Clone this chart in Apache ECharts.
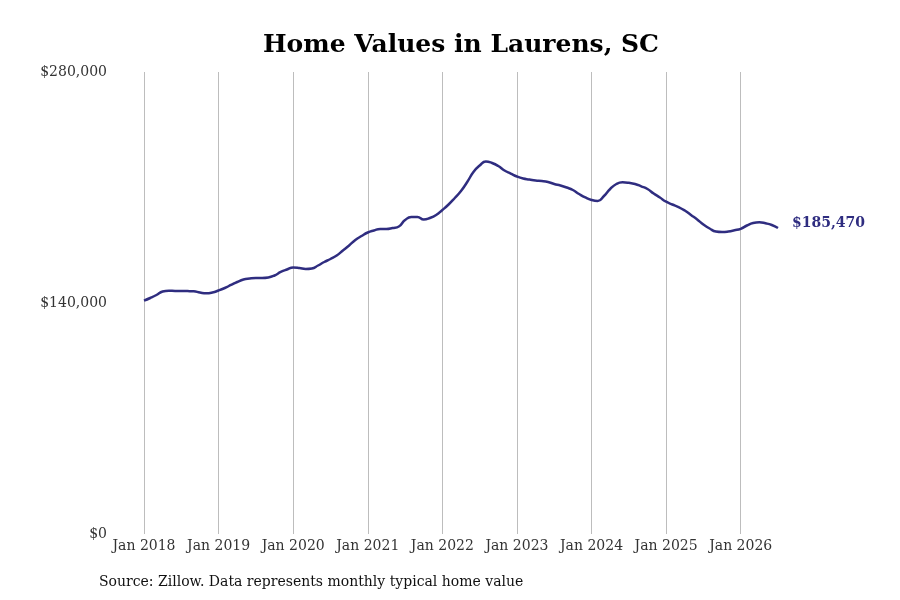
<!DOCTYPE html>
<html>
<head>
<meta charset="utf-8">
<script src="https://cdn.jsdelivr.net/npm/echarts@6/dist/echarts.min.js"></script>
<style>html,body{margin:0;padding:0;background:#fff;}#chart{width:900px;height:600px;}</style>
</head>
<body>
<div id="chart"></div>
<script>
var years = [2018, 2019, 2020, 2021, 2022, 2023, 2024, 2025, 2026];
var monthNames = ['Jan','Feb','Mar','Apr','May','Jun','Jul','Aug','Sep','Oct','Nov','Dec'];
var yTicks = [0, 140000, 280000];

var v2018 = [141400, 143030, 144850, 146970, 147450, 147270, 147250, 147200, 147090, 146360, 145880, 146360];
var v2019 = [147580, 149090, 150910, 152730, 154240, 154850, 155150, 155150, 155450, 156670, 158790, 160300];
var v2020 = [161520, 161210, 160610, 160910, 162730, 164850, 166670, 168790, 171820, 174850, 178180, 180610];
var v2021 = [182730, 183940, 184850, 184850, 185450, 186360, 190300, 192120, 192120, 190610, 191510, 193330];
var v2022 = [196360, 199700, 203640, 207880, 213330, 219390, 223330, 225760, 224850, 223030, 220300, 218480];
var v2023 = [216670, 215450, 214850, 214240, 213940, 213330, 212120, 211210, 210000, 208480, 206060, 203940];
var v2024 = [202420, 201820, 204850, 209090, 212120, 213150, 212850, 212120, 210730, 209090, 206360, 203940];
var v2025 = [201390, 199700, 198180, 196060, 193330, 190610, 187580, 185150, 183330, 183030, 183330, 184060];
var v2026 = [184970, 186970, 188480, 188910, 188300, 187270, 185470];

var values = [].concat(v2018, v2019, v2020, v2021, v2022, v2023, v2024, v2025, v2026);
var categories = [];
for (var i = 0; i < values.length; i++) {
  categories.push(monthNames[i % 12] + ' ' + years[Math.floor(i / 12)]);
}

var lineColor = '#2f2d80';
var serif = 'DejaVu Serif';
function money(v) { return '$' + Math.round(v).toLocaleString('en-US'); }

var chart = echarts.init(document.getElementById('chart'));
chart.setOption({
  animation: false,
  backgroundColor: '#ffffff',
  grid: { left: 144, right: 122, top: 72, bottom: 66 },
  xAxis: {
    type: 'category',
    data: categories,
    boundaryGap: false,
    axisLine: { show: false },
    axisTick: { show: false },
    axisLabel: {
      interval: function (idx) { return idx % 12 === 0; },
      fontFamily: serif, fontSize: 14, color: '#333', margin: 5
    },
    splitLine: {
      show: true,
      interval: function (idx) { return idx % 12 === 0; },
      lineStyle: { color: '#bdbdbd', width: 1 }
    }
  },
  yAxis: {
    type: 'value',
    min: yTicks[0], max: yTicks[2], interval: yTicks[1],
    axisLine: { show: false },
    axisTick: { show: false },
    splitLine: { show: false },
    axisLabel: {
      formatter: money,
      fontFamily: serif, fontSize: 14, color: '#333', margin: 37,
      padding: [4, 0, 0, 0]
    }
  },
  graphic: [
    { type: 'text', x: 461, y: 45, style: { text: 'Home Values in Laurens, SC', font: 'bold 25px "DejaVu Serif"', fill: '#000', textAlign: 'center', textVerticalAlign: 'middle' } },
    { type: 'text', x: 99, y: 582, style: { text: 'Source: Zillow. Data represents monthly typical home value', font: '14px "DejaVu Serif"', fill: '#111', textAlign: 'left', textVerticalAlign: 'middle' } }
  ],
  series: [{
    type: 'line',
    data: values,
    smooth: true,
    showSymbol: false,
    lineStyle: { color: lineColor, width: 2.5 },
    itemStyle: { color: lineColor },
    endLabel: {
      show: true,
      formatter: function (p) { return money(p.value); },
      color: lineColor, fontFamily: serif, fontWeight: 'bold', fontSize: 14, distance: 14,
      offset: [0, -5]
    }
  }]
});
</script>
</body>
</html>
